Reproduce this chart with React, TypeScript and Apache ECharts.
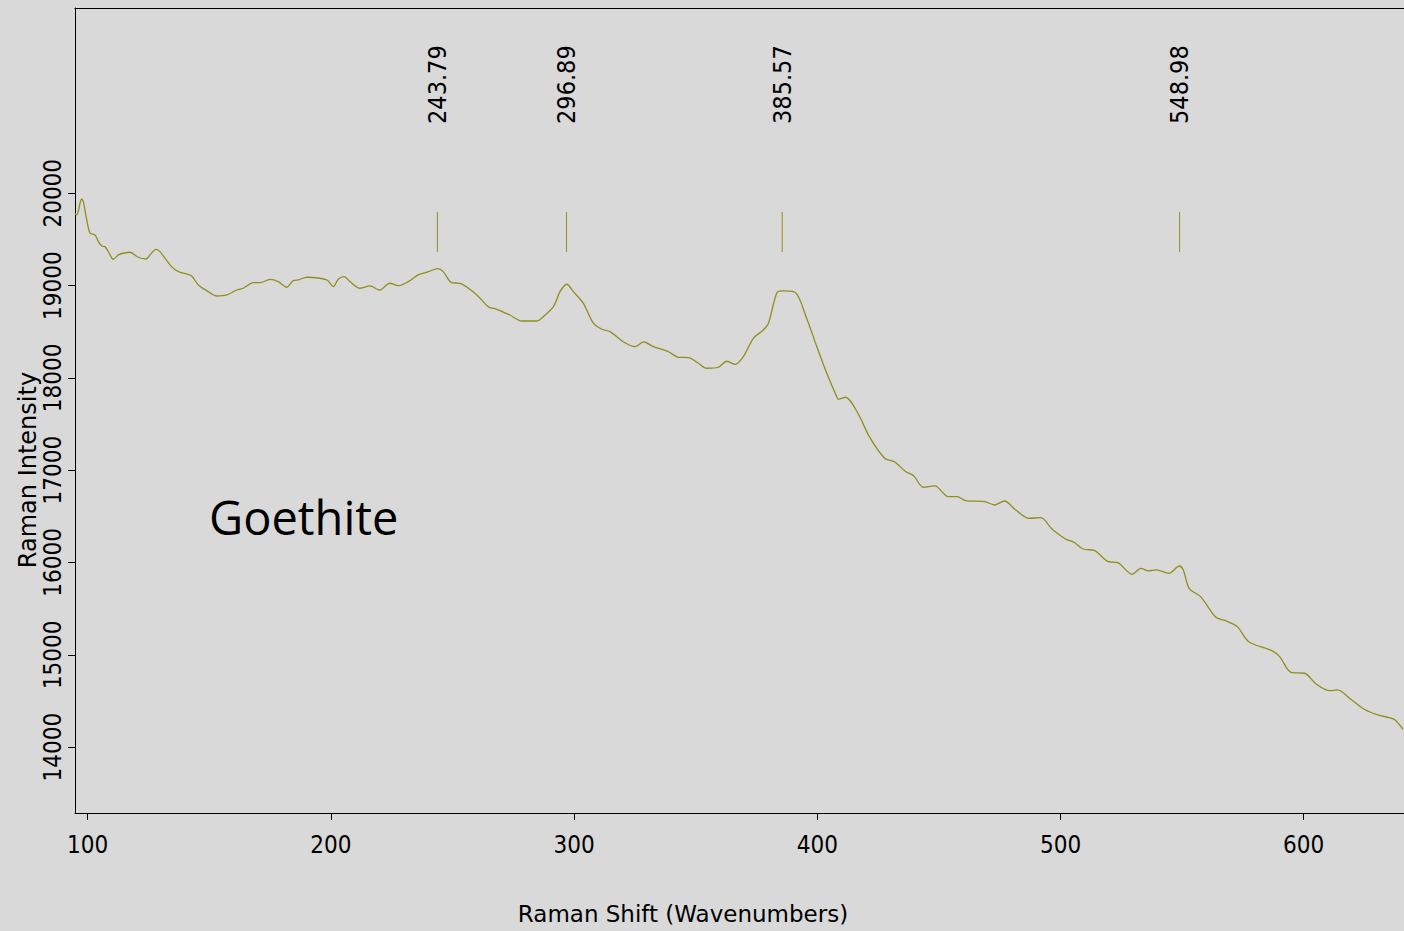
import React, { useEffect, useRef } from 'react';
import * as echarts from 'echarts';

// spectrum: [Raman shift, intensity]
const spectrum: number[][] = [
  [94.8, 19783], [95.5, 19765], [96.1, 19801], [97.5, 19938], [98.2, 19909], [99.6, 19711],
  [101.0, 19567], [103.0, 19548], [104.4, 19476], [105.8, 19429], [107.1, 19421], [108.5, 19367],
  [110.5, 19285], [112.6, 19332], [114.6, 19350], [117.4, 19361], [120.8, 19307], [124.0, 19288],
  [125.6, 19332], [128.1, 19393], [129.7, 19367], [134.5, 19205], [137.3, 19151], [140.7, 19126],
  [142.8, 19104], [145.5, 19007], [148.9, 18945], [153.0, 18887], [157.2, 18898], [161.3, 18952],
  [164.0, 18971], [168.1, 19031], [170.9, 19031], [175.0, 19068], [178.4, 19042], [181.8, 18982],
  [184.5, 19053], [186.6, 19061], [190.1, 19090], [198.3, 19061], [201.0, 18988], [203.0, 19068],
  [205.4, 19096], [207.9, 19042], [212.0, 18971], [216.1, 18996], [219.9, 18952], [224.3, 19025],
  [227.7, 18999], [231.8, 19042], [235.9, 19115], [240.1, 19151], [243.9, 19183], [246.2, 19151],
  [249.7, 19031], [253.1, 19025], [260.0, 18898], [264.7, 18771], [268.2, 18743], [273.6, 18681],
  [278.5, 18616], [284.6, 18616], [287.3, 18663], [291.5, 18771], [294.2, 18934], [297.0, 19014],
  [299.7, 18934], [303.8, 18808], [307.9, 18592], [311.4, 18527], [314.8, 18501], [320.2, 18392],
  [325.0, 18338], [328.7, 18389], [332.6, 18338], [338.7, 18284], [342.9, 18223], [347.0, 18219],
  [351.1, 18158], [354.5, 18104], [359.3, 18115], [362.8, 18180], [366.2, 18147], [369.6, 18230],
  [373.7, 18429], [377.8, 18519], [379.9, 18592], [383.3, 18917], [385.4, 18942], [390.8, 18927],
  [395.6, 18646], [399.8, 18338], [403.9, 18050], [408.0, 17796], [408.7, 17768], [411.6, 17790],
  [416.7, 17617], [421.4, 17363], [427.7, 17129], [431.7, 17092], [436.4, 16984], [439.6, 16940],
  [443.6, 16815], [448.3, 16829], [453.9, 16713], [457.5, 16713], [461.0, 16670], [468.9, 16659],
  [472.9, 16623], [476.9, 16666], [481.6, 16569], [487.1, 16479], [491.9, 16485], [496.6, 16360],
  [502.2, 16251], [505.4, 16222], [509.3, 16146], [514.1, 16128], [519.6, 16009], [523.6, 15998],
  [529.4, 15872], [533.1, 15937], [536.2, 15908], [539.4, 15919], [544.6, 15883], [548.9, 15962],
  [550.5, 15919], [552.9, 15720], [557.6, 15630], [563.9, 15406], [567.9, 15370], [572.7, 15305],
  [577.4, 15142], [586.9, 15045], [590.1, 14980], [594.8, 14810], [600.4, 14800], [605.1, 14684],
  [610.7, 14611], [613.9, 14619], [619.4, 14518], [624.9, 14410], [630.5, 14348], [635.2, 14319],
  [637.6, 14294], [640.8, 14193],
];

const peaks = [243.79, 296.89, 385.57, 548.98];
const markerLow = 19364;
const markerHigh = 19797;
const labelStart = 20751;

const xTicks = [100, 200, 300, 400, 500, 600];
const yTicks = [14000, 15000, 16000, 17000, 18000, 19000, 20000];

const olive = '#8f8f1f';
const tickFont = '"DejaVu Sans Condensed", "DejaVu Sans", sans-serif';
const titleFont = '"DejaVu Sans", sans-serif';

const App: React.FC = () => {
  const chartRef = useRef<HTMLDivElement>(null);

  useEffect(() => {
    const chart = echarts.init(chartRef.current!, null, { renderer: 'svg' });

    chart.setOption({
      animation: false,
      backgroundColor: '#d9d9d9',
      grid: {
        left: 75,
        top: 8,
        right: 0,
        height: 805,
      },
      xAxis: [
        {
          type: 'value',
          position: 'bottom',
          min: 94.78,
          max: 641.24,
          axisLine: { show: true, onZero: false, lineStyle: { color: '#000', width: 1 } },
          axisTick: { show: true, length: 7, customValues: xTicks, lineStyle: { color: '#000' } },
          axisLabel: {
            customValues: xTicks,
            showMinLabel: true,
            showMaxLabel: true,
            margin: 20,
            color: '#000',
            fontSize: 24,
            fontFamily: tickFont,
          },
          splitLine: { show: false },
        },
        {
          type: 'value',
          position: 'top',
          min: 94.78,
          max: 641.24,
          axisLine: { show: true, onZero: false, lineStyle: { color: '#000', width: 1 } },
          axisTick: { show: false },
          axisLabel: { show: false },
          splitLine: { show: false },
        },
      ],
      yAxis: {
        type: 'value',
        min: 13286,
        max: 22007,
        axisLine: { show: true, onZero: false, lineStyle: { color: '#000', width: 1 } },
        axisTick: { show: true, length: 7, customValues: yTicks, lineStyle: { color: '#000' } },
        axisLabel: {
          customValues: yTicks,
          showMinLabel: true,
          showMaxLabel: true,
          formatter: (v: number) => String(v),
          rotate: 90,
          margin: 10,
          color: '#000',
          fontSize: 24,
          fontFamily: tickFont,
        },
        splitLine: { show: false },
      },
      graphic: [
        {
          type: 'text',
          x: 683,
          y: 914,
          style: {
            text: 'Raman Shift (Wavenumbers)',
            fontSize: 23,
            fontFamily: titleFont,
            fill: '#000',
            align: 'center',
            verticalAlign: 'middle',
          },
        },
        {
          type: 'text',
          x: 28,
          y: 470,
          rotation: Math.PI / 2,
          style: {
            text: 'Raman Intensity',
            fontSize: 24,
            fontFamily: titleFont,
            fill: '#000',
            align: 'center',
            verticalAlign: 'middle',
          },
        },
        {
          type: 'text',
          x: 209,
          y: 517,
          style: {
            text: 'Goethite',
            fontSize: 47,
            fontFamily: '"Open Sans", sans-serif',
            fill: '#000',
            align: 'left',
            verticalAlign: 'middle',
          },
        },
      ],
      series: [
        {
          type: 'line',
          data: spectrum,
          showSymbol: false,
          smooth: 0.3,
          lineStyle: { color: olive, width: 1.3 },
        },
        {
          type: 'custom',
          data: peaks.map((p) => [p]),
          renderItem: (params: any, api: any) => {
            const x = api.value(0);
            const lo = api.coord([x, markerLow]);
            const hi = api.coord([x, markerHigh]);
            const lab = api.coord([x, labelStart]);
            return {
              type: 'group',
              children: [
                {
                  type: 'line',
                  shape: { x1: lo[0], y1: lo[1], x2: hi[0], y2: hi[1] },
                  style: { stroke: olive, lineWidth: 1 },
                },
                {
                  type: 'text',
                  x: lab[0],
                  y: lab[1],
                  rotation: Math.PI / 2,
                  style: {
                    text: x.toFixed(2),
                    fontSize: 25,
                    fontFamily: tickFont,
                    fill: '#000',
                    align: 'left',
                    verticalAlign: 'middle',
                  },
                },
              ],
            };
          },
        },
      ],
    });

    return () => {
      chart.dispose();
    };
  }, []);

  return (
    <div
      ref={chartRef}
      style={{ position: 'absolute', left: 0, top: 0, width: '1404px', height: '931px' }}
    />
  );
};

export default App;
